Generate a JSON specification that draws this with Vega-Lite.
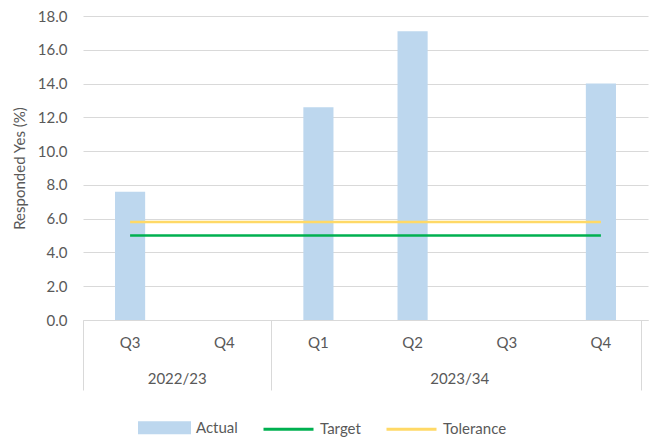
{
  "$schema": "https://vega.github.io/schema/vega-lite/v6.json",
  "autosize": {"type": "none"},
  "width": 565,
  "height": 304,
  "padding": {"left": 83, "top": 16, "right": 3, "bottom": 121},
  "background": "#ffffff",
  "config": {
    "view": {"stroke": null},
    "font": "Lato",
    "axis": {
      "labelFont": "Lato",
      "labelFontSize": 15,
      "labelColor": "#595959",
      "titleFont": "Lato",
      "titleFontSize": 15,
      "titleFontWeight": "normal",
      "titleColor": "#595959"
    }
  },
  "data": {
    "values": [
      {"period": "2022/23 Q3", "series": "Actual", "value": 7.6},
      {"period": "2023/34 Q1", "series": "Actual", "value": 12.6},
      {"period": "2023/34 Q2", "series": "Actual", "value": 17.1},
      {"period": "2023/34 Q4", "series": "Actual", "value": 14.0},
      {"period": "2022/23 Q3", "series": "Target", "value": 5.0},
      {"period": "2022/23 Q4", "series": "Target", "value": 5.0},
      {"period": "2023/34 Q1", "series": "Target", "value": 5.0},
      {"period": "2023/34 Q2", "series": "Target", "value": 5.0},
      {"period": "2023/34 Q3", "series": "Target", "value": 5.0},
      {"period": "2023/34 Q4", "series": "Target", "value": 5.0},
      {"period": "2022/23 Q3", "series": "Tolerance", "value": 5.8},
      {"period": "2022/23 Q4", "series": "Tolerance", "value": 5.8},
      {"period": "2023/34 Q1", "series": "Tolerance", "value": 5.8},
      {"period": "2023/34 Q2", "series": "Tolerance", "value": 5.8},
      {"period": "2023/34 Q3", "series": "Tolerance", "value": 5.8},
      {"period": "2023/34 Q4", "series": "Tolerance", "value": 5.8}
    ]
  },
  "resolve": {"axis": {"x": "independent"}},
  "layer": [
    {
      "transform": [{"filter": "datum.series === 'Actual'"}],
      "mark": {"type": "bar", "width": {"band": 0.32}},
      "encoding": {
        "x": {
          "field": "period",
          "type": "nominal",
          "sort": null,
          "scale": {
            "domain": ["2022/23 Q3", "2022/23 Q4", "2023/34 Q1", "2023/34 Q2", "2023/34 Q3", "2023/34 Q4"],
            "paddingInner": 0,
            "paddingOuter": 0
          },
          "axis": {
            "orient": "bottom",
            "title": null,
            "labelExpr": "split(datum.value, ' ')[1]",
            "labelAngle": 0,
            "ticks": false,
            "grid": false,
            "domainColor": "#d9d9d9",
            "domainWidth": 1,
            "labelPadding": 15
          }
        },
        "y": {
          "field": "value",
          "type": "quantitative",
          "scale": {"domain": [0, 18], "nice": false},
          "axis": {
            "title": "Responded Yes (%)",
            "values": [0, 2, 4, 6, 8, 10, 12, 14, 16, 18],
            "tickCount": 10,
            "labelOverlap": false,
            "format": ".1f",
            "grid": true,
            "gridColor": "#d9d9d9",
            "gridWidth": 1,
            "domain": false,
            "ticks": false,
            "labelPadding": 16,
            "titlePadding": 10
          }
        },
        "color": {
          "field": "series",
          "type": "nominal",
          "scale": {
            "domain": ["Actual", "Target", "Tolerance"],
            "range": ["#bdd7ee", "#00b050", "#ffd966"]
          },
          "legend": {
            "orient": "none",
            "legendX": 55,
            "legendY": 385,
            "direction": "horizontal",
            "title": null,
            "padding": 0,
            "gridAlign": "each",
            "columnPadding": 19,
            "symbolSize": 2500,
            "symbolType": "stroke",
            "symbolStrokeWidth": 3,
            "labelOffset": 5,
            "labelFont": "Lato",
            "labelFontSize": 15,
            "labelColor": "#595959",
            "encode": {
              "symbols": {
                "update": {
                  "shape": {"signal": "datum.value === 'Actual' ? 'M-1,-0.2H1V0.2H-1Z' : 'stroke'"},
                  "fill": {"signal": "datum.value === 'Actual' ? '#bdd7ee' : 'transparent'"},
                  "stroke": {"signal": "datum.value === 'Actual' ? 'transparent' : (datum.value === 'Target' ? '#00b050' : '#ffd966')"},
                  "strokeWidth": {"value": 3}
                }
              }
            }
          }
        }
      }
    },
    {
      "transform": [{"filter": "datum.series === 'Target'"}],
      "mark": {"type": "line", "strokeWidth": 2.5},
      "encoding": {
        "x": {
          "field": "period",
          "type": "nominal",
          "sort": null,
          "axis": {
            "orient": "bottom",
            "title": null,
            "domain": false,
            "grid": false,
            "values": ["2022/23 Q3", "2022/23 Q4", "2023/34 Q1", "2023/34 Q3"],
            "bandPosition": 0,
            "tickColor": "#d9d9d9",
            "tickWidth": 1,
            "tickSize": {
              "condition": {"test": "datum.value === '2022/23 Q3' || datum.value === '2023/34 Q1'", "value": 70},
              "value": 0
            },
            "labelExpr": "datum.value === '2022/23 Q4' ? '2022/23' : (datum.value === '2023/34 Q3' ? '2023/34' : '')",
            "labelOffset": {"expr": "-bandwidth('x') / 2"},
            "labelAngle": 0,
            "labelPadding": 51
          }
        },
        "y": {
          "field": "value",
          "type": "quantitative",
          "axis": {
            "title": "Responded Yes (%)",
            "values": [0, 2, 4, 6, 8, 10, 12, 14, 16, 18],
            "tickCount": 10,
            "labelOverlap": false,
            "format": ".1f",
            "grid": true,
            "gridColor": "#d9d9d9",
            "gridWidth": 1,
            "domain": false,
            "ticks": false,
            "labelPadding": 16,
            "titlePadding": 10
          }
        },
        "color": {"field": "series", "type": "nominal"}
      }
    },
    {
      "transform": [{"filter": "datum.series === 'Tolerance'"}],
      "mark": {"type": "line", "strokeWidth": 2.5},
      "encoding": {
        "x": {
          "field": "period",
          "type": "nominal",
          "sort": null,
          "axis": {
            "orient": "bottom",
            "title": null,
            "domain": false,
            "grid": false,
            "labels": false,
            "values": ["2023/34 Q4"],
            "bandPosition": 0.93,
            "tickColor": "#d9d9d9",
            "tickWidth": 1,
            "tickSize": 70
          }
        },
        "y": {
          "field": "value",
          "type": "quantitative",
          "axis": {
            "title": "Responded Yes (%)",
            "values": [0, 2, 4, 6, 8, 10, 12, 14, 16, 18],
            "tickCount": 10,
            "labelOverlap": false,
            "format": ".1f",
            "grid": true,
            "gridColor": "#d9d9d9",
            "gridWidth": 1,
            "domain": false,
            "ticks": false,
            "labelPadding": 16,
            "titlePadding": 10
          }
        },
        "color": {"field": "series", "type": "nominal"}
      }
    }
  ]
}
